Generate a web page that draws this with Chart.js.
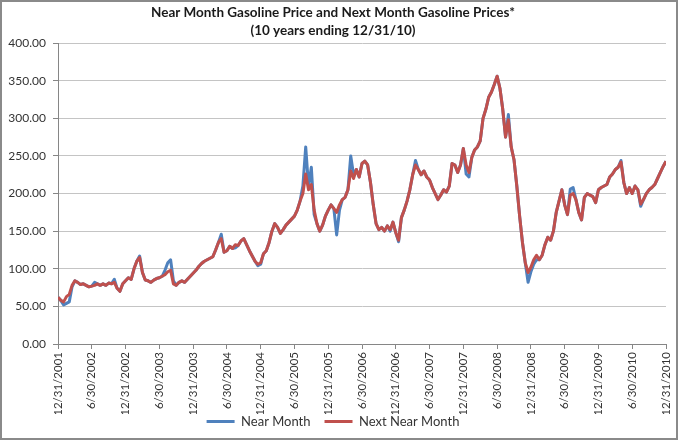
<!DOCTYPE html>
<html>
<head>
<meta charset="utf-8">
<script src="https://cdn.jsdelivr.net/npm/chart.js@4.4.1/dist/chart.umd.min.js"></script>
<style>
  html, body { margin: 0; padding: 0; background: #fff; }
  #wrap { width: 678px; height: 444px; }
</style>
</head>
<body>
<div id="wrap"><canvas id="gas" width="678" height="444"></canvas></div>
<script>
// tick labels on the x axis, one every 12 semi-monthly points
const tickLabels = ["12/31/2001","6/30/2002","12/31/2002","6/30/2003","12/31/2003",
  "6/30/2004","12/31/2004","6/30/2005","12/31/2005","6/30/2006","12/31/2006",
  "6/30/2007","12/31/2007","6/30/2008","12/31/2008","6/30/2009","12/31/2009",
  "6/30/2010","12/31/2010"];

// Next Near Month, read twice a month off the picture (cents/gal)
const nextNearMonth = [
  62, 58, 56, 63, 66, 78, 84, 82, 79, 80,
  78, 76, 77, 78, 80, 78, 80, 78, 81, 80,
  82, 74, 70, 80, 84, 88, 86, 100, 110, 115,
  95, 85, 84, 82, 85, 87, 88, 90, 92, 96,
  98, 80, 78, 82, 84, 82, 86, 90, 94, 98,
  103, 107, 110, 112, 114, 116, 125, 135, 140, 122,
  124, 130, 127, 132, 131, 137, 140, 132, 124, 117,
  110, 106, 108, 120, 124, 135, 150, 160, 155, 147,
  152, 158, 162, 166, 170, 178, 190, 200, 226, 205,
  212, 178, 160, 150, 158, 170, 178, 185, 180, 175,
  185, 192, 195, 205, 230, 220, 232, 222, 240, 243,
  238, 215, 185, 160, 152, 155, 150, 157, 152, 162,
  148, 138, 168, 178, 190, 205, 225, 238, 232, 225,
  230, 222, 218, 208, 200, 192, 198, 205, 202, 210,
  240, 238, 228, 238, 260, 238, 228, 248, 258, 262,
  270, 300, 312, 328, 335, 345, 356, 340, 312, 275,
  298, 262, 245, 210, 170, 135, 108, 95, 102, 112,
  118, 112, 118, 132, 142, 138, 150, 175, 190, 205,
  185, 172, 198, 200, 192, 175, 165, 195, 200, 198,
  196, 188, 205, 208, 210, 212, 222, 226, 232, 235,
  242, 215, 200, 208, 200, 210, 205, 186, 192, 200,
  205, 208, 212, 220, 228, 236, 243
];

// Near Month, same dates; differs from the red line mostly at the spikes
const nearMonth = [
  62, 58, 52, 54, 56, 76, 84, 82, 79, 80,
  78, 76, 77, 82, 80, 78, 80, 78, 81, 80,
  86, 74, 70, 80, 84, 88, 86, 100, 110, 117,
  95, 85, 84, 82, 85, 87, 88, 90, 98, 108,
  112, 84, 78, 82, 84, 82, 86, 90, 94, 98,
  103, 107, 110, 112, 114, 116, 125, 135, 146, 122,
  124, 130, 127, 128, 131, 137, 140, 132, 124, 117,
  110, 104, 106, 120, 124, 135, 150, 160, 155, 147,
  152, 158, 162, 166, 170, 178, 190, 210, 262, 210,
  235, 172, 160, 150, 158, 170, 178, 185, 180, 145,
  178, 192, 195, 205, 250, 225, 232, 222, 240, 243,
  238, 215, 185, 160, 152, 155, 150, 157, 150, 162,
  148, 136, 168, 178, 190, 205, 225, 244, 232, 225,
  230, 222, 218, 208, 200, 192, 198, 205, 202, 210,
  240, 238, 228, 238, 260, 226, 222, 248, 258, 262,
  270, 300, 312, 328, 335, 345, 356, 340, 312, 275,
  305, 262, 245, 210, 170, 135, 108, 82, 96, 106,
  112, 112, 118, 132, 142, 138, 150, 175, 190, 205,
  185, 172, 206, 208, 192, 175, 165, 195, 200, 198,
  196, 188, 205, 208, 210, 212, 222, 226, 232, 235,
  244, 215, 200, 208, 200, 210, 205, 183, 192, 200,
  205, 208, 212, 220, 228, 236, 243
];

const seriesNames = ["Near Month", "Next Near Month"];
const titleLines = ["Near Month Gasoline Price and Next Month Gasoline Prices*", "(10 years ending 12/31/10)"];

const toPoints = arr => arr.map((v, i) => ({ x: i, y: v }));

// grey frame round the whole chart, like the excel chart area
const framePlugin = {
  id: "frame",
  beforeDraw(chart) {
    const c = chart.ctx;
    c.save();
    c.fillStyle = "#fff";
    c.fillRect(0, 0, chart.width, chart.height);
    c.strokeStyle = "#8a8a8a";
    c.lineWidth = 2;
    c.strokeRect(1, 1, chart.width - 2, 438);
    c.restore();
  }
};

// legend sits tucked up under the rotated date labels, as in excel
const legendLift = {
  id: "legendLift",
  afterLayout(chart) {
    const lg = chart.legend;
    if (!lg) return;
    lg.top -= 13;
    lg.height = 44;
    lg.bottom = lg.top + 44;
  }
};

const ctx = document.getElementById("gas");

const gasChart = new Chart(ctx, {
  type: "line",
  data: {
    datasets: [{
      label: seriesNames[0],
      data: toPoints(nearMonth),
      borderColor: "#4F81BD",
      backgroundColor: "#4F81BD",
      borderWidth: 3,
      borderJoinStyle: "round",
      pointRadius: 0,
      pointStyle: "line",
      order: 1
    }, {
      label: seriesNames[1],
      data: toPoints(nextNearMonth),
      borderColor: "#C0504D",
      backgroundColor: "#C0504D",
      borderWidth: 3,
      borderJoinStyle: "round",
      pointRadius: 0,
      pointStyle: "line",
      order: 0
    }]
  },
  options: {
    responsive: false,
    animation: false,
    layout: { padding: { left: 0, right: 12, top: 0, bottom: 10 } },
    plugins: {
      title: {
        display: true,
        text: titleLines,
        color: "#1a1a1a",
        font: { family: "Lato", size: 13.5, weight: "bold", lineHeight: 1.3 },
        padding: { top: 4, bottom: 4 }
      },
      legend: {
        position: "bottom",
        maxHeight: 20,
        labels: {
          usePointStyle: true,
          pointStyleWidth: 28,
          color: "#333",
          font: { family: "Lato", size: 13 },
          padding: 14,
          sort: (a, b) => a.datasetIndex - b.datasetIndex
        }
      },
      tooltip: { enabled: false }
    },
    scales: {
      x: {
        type: "linear",
        min: 0,
        max: 216,
        afterFit(scale) { scale.height = 70; scale.paddingRight = 0; },
        border: { color: "#868686" },
        grid: { drawOnChartArea: false, tickLength: 5, color: "#868686" },
        ticks: {
          stepSize: 12,
          autoSkip: false,
          maxRotation: 90,
          minRotation: 90,
          color: "#333",
          font: { family: "Lato", size: 11.5 },
          callback: v => tickLabels[Math.round(v / 12)]
        }
      },
      y: {
        min: 0,
        max: 400,
        afterFit(scale) { scale.width = 58; },
        border: { color: "#868686" },
        grid: { color: "#c4c4c4", tickColor: "#868686", tickLength: 5 },
        ticks: {
          stepSize: 50,
          padding: 7,
          color: "#333",
          font: { family: "Lato", size: 12 },
          callback: v => v.toFixed(2)
        }
      }
    }
  },
  plugins: [framePlugin, legendLift]
});
</script>
</body>
</html>
